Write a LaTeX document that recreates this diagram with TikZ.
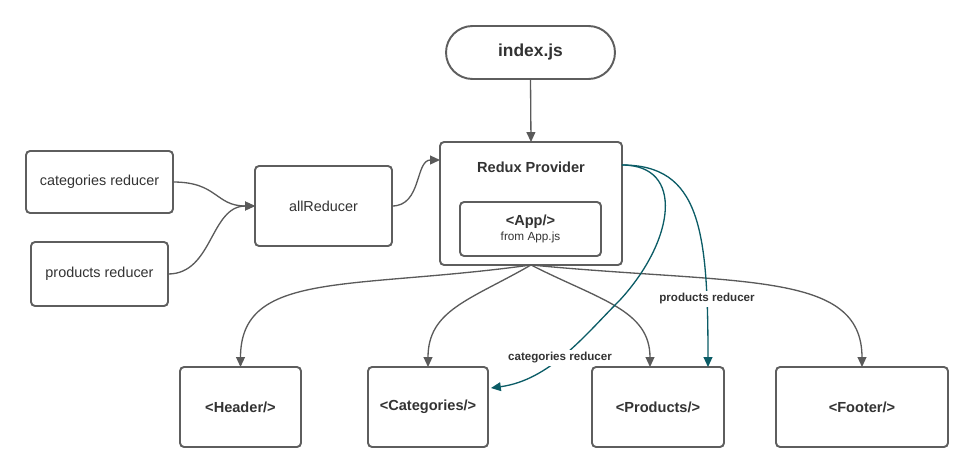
\documentclass[tikz,border=0pt]{standalone}
\usepackage{fontspec}
\setmainfont{Liberation Sans}
\usetikzlibrary{calc, arrows.meta}
\definecolor{boxgray}{HTML}{5E5E5E}
\definecolor{linegray}{HTML}{5A5A5A}
\definecolor{txtgray}{HTML}{333333}
\definecolor{teal}{HTML}{0B5C66}

\begin{document}
\begin{tikzpicture}[x=0.02cm, y=-0.02cm,
  box/.style={draw=boxgray, line width=1.1pt, rounded corners=2.3pt, fill=white,
    inner sep=0pt, outer sep=0pt, text=txtgray, font=\fontsize{8.2}{10}\selectfont},
  comp/.style={box, minimum height=1.6cm, font=\fontsize{8.3}{10}\bfseries},
  conn/.style={draw=linegray, line width=0.75pt,
    -{Triangle[length=5.6pt, width=5pt]}},
  tealconn/.style={conn, draw=teal},
  lbl/.style={fill=white, inner sep=1.5pt, text=txtgray, font=\fontsize{6.6}{8}\bfseries}]
  \useasboundingbox (0,0) rectangle (974,473);
  % entry point and provider
  \node[box, minimum width=3.38cm, minimum height=1.06cm, rounded corners=0.53cm,
    font=\fontsize{9.9}{12}\bfseries] (index) at (530.5,52.5) {index.js};
  \node[box, minimum width=3.64cm, minimum height=2.46cm] (redux) at (531,203.5) {};
  \node[text=txtgray, font=\fontsize{8.3}{10}\bfseries] (reduxtitle) at (531,167) {Redux Provider};
  \node[box, minimum width=2.82cm, minimum height=1.08cm, align=center] (app) at (530.5,229)
    {{\fontsize{8.3}{10}\bfseries <App/>}\\[-1pt]{\fontsize{6.7}{8}\selectfont from App.js}};
  % reducers
  \node[box, minimum width=2.94cm, minimum height=1.24cm] (catred) at (99.5,182) {categories reducer};
  \node[box, minimum width=2.74cm, minimum height=1.28cm] (prodred) at (99.5,274) {products reducer};
  \node[box, minimum width=2.74cm, minimum height=1.6cm] (allred) at (323.5,206) {allReducer};
  % components
  \node[comp, minimum width=2.42cm] (header) at (240.5,407) {<Header/>};
  \node[comp, minimum width=2.4cm] (cats) at (428,407) {<Categories/>};
  \node[comp, minimum width=2.64cm] (prods) at (658,407) {<Products/>};
  \node[comp, minimum width=3.44cm] (footer) at (862,407) {<Footer/>};
  % helper points
  \coordinate (reduxin) at ($(redux.north west)+(0,18)$);
  \coordinate (reduxout) at ($(redux.north east)+(0,23)$);
  \coordinate (catsin) at ($(cats.north east)+(3,21)$);
  \coordinate (prodsin) at ($(prods.north)+(-8,0)$);
  \coordinate (prodstl) at ($(prods.north)+(50,0)$);
  % reducer flow
  \draw[conn] (index.south) -- (redux.north);
  \draw[conn] (catred.east) .. controls +(45,0) and +(-40,0) .. (allred.west);
  \draw[conn] (prodred.east) .. controls +(45,0) and +(-45,0) .. (allred.west);
  \draw[conn] (allred.east) .. controls +(30,0) and +(-25,0) .. (reduxin);
  % provider to components
  \draw[conn] (redux.south) .. controls (350,290) and (240.5,270) .. (header.north);
  \draw[conn] (redux.south) .. controls (470,300) and (428,310) .. (cats.north);
  \draw[conn] (redux.south) .. controls (600,300) and (650,310) .. (prodsin);
  \draw[conn] (redux.south) .. controls (740,285) and (862,270) .. (footer.north);
  % reducers passed down
  \draw[tealconn] (reduxout) .. controls (700,165) and (708,230) .. (prodstl);
  \draw[tealconn] (reduxout) .. controls (685,165) and (675,240) .. (620,300)
    .. controls (585,335) and (550,380) .. (catsin);
  \node[lbl] (prodlbl) at (707,299) {products reducer};
  \node[lbl] (catlbl) at (560,358) {categories reducer};
\end{tikzpicture}
\end{document}
